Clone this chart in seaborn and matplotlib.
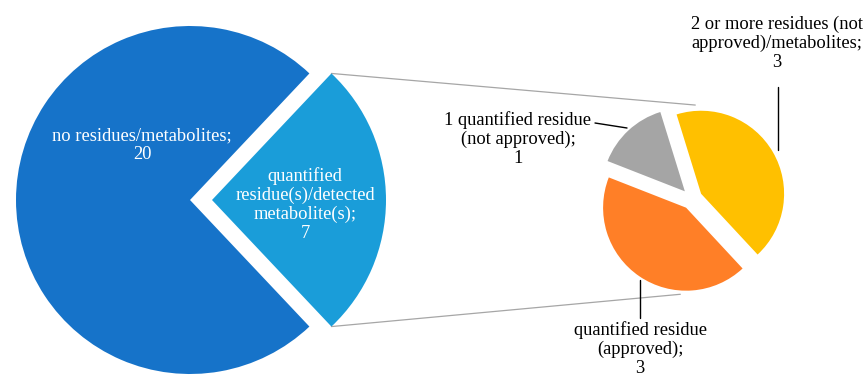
import numpy as np
import matplotlib
matplotlib.use("Agg")
import matplotlib.pyplot as plt
import seaborn as sns

# ---- data ----
main_labels = ["no residues/metabolites;\n20",
               "quantified\nresidue(s)/detected\nmetabolite(s);\n7"]
main_values = [20, 7]
main_colors = ["#1673C9", "#1A9DD9"]

sub_labels = ["2 or more residues (not\napproved)/metabolites;\n3",
              "1 quantified residue\n(not approved);\n1",
              "quantified residue\n(approved);\n3"]
sub_values = [3, 1, 3]
sub_colors = ["#FFC000", "#A5A5A5", "#FF7F27"]

sns.set_theme(style="white")
plt.rcParams['font.family'] = ['Liberation Serif', 'DejaVu Serif']

W, H = 867, 378
fig = plt.figure(figsize=(W / 100, H / 100), dpi=100)
ax = fig.add_axes([0, 0, 1, 1])

# main pie
c1 = (190, H - 200)
r1 = 174
ex1 = 22
start1 = 360 * main_values[1] / sum(main_values) / 2
ax.pie(main_values, colors=main_colors, startangle=start1, counterclock=True,
       explode=[0, ex1], center=c1, radius=r1, frame=False,
       wedgeprops=dict(linewidth=0))

# secondary pie
c2 = (692, H - 199)
r2 = 83
ex2 = 10.5
start2 = -47.1
ax.pie(sub_values, colors=sub_colors, startangle=start2, counterclock=True,
       explode=[ex2] * 3, center=c2, radius=r2, frame=False,
       wedgeprops=dict(linewidth=0))

# connector lines from exploded slice corners to secondary pie
vx = c1[0] + ex1
for sgn, (ang, rr) in zip([1, -1], [(88, 94), (263, 96)]):
    a = np.deg2rad(start1) * sgn
    x0 = vx + r1 * np.cos(a)
    y0 = c1[1] + r1 * np.sin(a)
    x1 = c2[0] + rr * np.cos(np.deg2rad(ang))
    y1 = c2[1] + rr * np.sin(np.deg2rad(ang))
    ax.plot([x0, x1], [y0, y1], color="#A6A6A6", lw=0.9, zorder=0)

fs = 13.3
ls = 1.13
ax.text(142, H - 145, main_labels[0], color="white", fontsize=fs,
        ha="center", va="center", linespacing=ls)
ax.text(305, H - 204.5, main_labels[1], color="white", fontsize=fs,
        ha="center", va="center", linespacing=ls)
ax.text(777, H - 43.5, sub_labels[0], color="black", fontsize=fs,
        ha="center", va="center", linespacing=ls)
ax.text(518, H - 139, sub_labels[1], color="black", fontsize=fs,
        ha="center", va="center", linespacing=ls)
ax.text(640, H - 349, sub_labels[2], color="black", fontsize=fs,
        ha="center", va="center", linespacing=ls)

# leader lines
ax.plot([595, 627], [H - 123, H - 128], color="black", lw=1)
ax.plot([778, 778], [H - 87, H - 150], color="black", lw=1)
ax.plot([640, 640], [H - 280, H - 318], color="black", lw=1)

ax.set_xlim(0, W)
ax.set_ylim(0, H)
ax.set_aspect("equal")
ax.axis("off")
fig.savefig("out.png", dpi=100, facecolor="white")
